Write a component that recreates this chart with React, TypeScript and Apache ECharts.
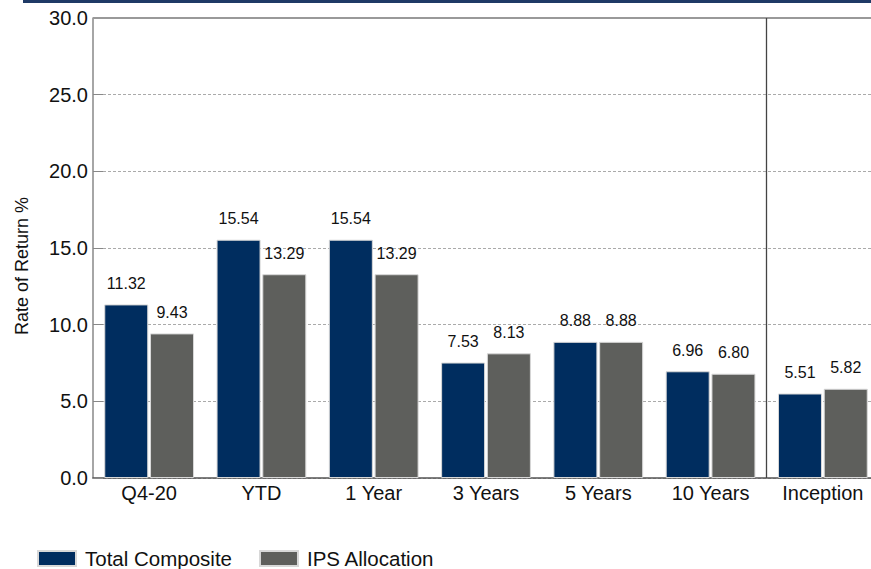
import React, { useEffect, useRef } from "react";
import * as echarts from "echarts";

const categories = ["Q4-20", "YTD", "1 Year", "3 Years", "5 Years", "10 Years", "Inception"];
const totalComposite = [11.32, 15.54, 15.54, 7.53, 8.88, 6.96, 5.51];
const ipsAllocation = [9.43, 13.29, 13.29, 8.13, 8.88, 6.8, 5.82];
const seriesNames = ["Total Composite", "IPS Allocation"];
const yTicks = { min: 0, max: 30, interval: 5 };
// boundary (in category units) where the "Inception" section begins
const separatorAt = [6];

const FONT = "'Liberation Sans', Arial, sans-serif";
const NAVY = "#002D5F";
const GREY = "#5E5F5C";

export default function App() {
  const ref = useRef<HTMLDivElement>(null);
  useEffect(() => {
    if (!ref.current) return;
    const chart = echarts.init(ref.current, undefined, { renderer: "svg" });
    const labelOpt = {
      show: true,
      position: "top" as const,
      distance: 13,
      fontSize: 16,
      fontFamily: FONT,
      color: "#111",
      formatter: (p: any) => Number(p.value).toFixed(2),
    };
    chart.setOption({
      animation: false,
      textStyle: { fontFamily: FONT },
      grid: { left: 93, top: 18, right: 0, bottom: 91, containLabel: false },
      legend: {
        left: 32,
        top: 543,
        itemWidth: 38,
        itemHeight: 15,
        itemGap: 27,
        icon: "rect",
        textStyle: { fontSize: 20.5, fontFamily: FONT, color: "#111", padding: [0, 0, 0, 4] },
        data: seriesNames,
      },
      xAxis: [
        {
          type: "category",
          data: categories,
          axisLine: { lineStyle: { color: "#555", width: 1.5 } },
          axisTick: { show: false },
          axisLabel: { interval: 0, fontSize: 20, fontFamily: FONT, color: "#111", margin: 5 },
          splitLine: { show: false },
        },
        {
          type: "value",
          min: 0,
          max: categories.length,
          show: false,
          splitLine: { show: false },
        },
      ],
      yAxis: {
        type: "value",
        min: yTicks.min,
        max: yTicks.max,
        interval: yTicks.interval,
        name: "Rate of Return %",
        nameLocation: "middle",
        nameGap: 62,
        nameTextStyle: { fontSize: 18, fontFamily: FONT, color: "#111", padding: [0, 36, 0, 0] },
        axisLine: { show: true, lineStyle: { color: "#888", width: 1.5 } },
        axisTick: { show: true, inside: true, length: 10, lineStyle: { color: "#888" } },
        axisLabel: {
          fontSize: 20,
          fontFamily: FONT,
          color: "#111",
          margin: 5,
          formatter: (v: number) => v.toFixed(1),
        },
        splitLine: {
          show: true,
          lineStyle: { color: "#aaa", type: [3, 2], width: 1 },
        },
      },
      graphic: [
        { type: "rect", left: 23, top: 0, shape: { width: 860, height: 3 }, style: { fill: "#1F3A66" } },
      ],
      series: [
        {
          name: seriesNames[0],
          type: "bar",
          data: totalComposite,
          barWidth: 44,
          barGap: "4%",
          itemStyle: { color: NAVY, borderColor: "#d8d8d8", borderWidth: 1 },
          label: labelOpt,
        },
        {
          name: seriesNames[1],
          type: "bar",
          data: ipsAllocation,
          barWidth: 44,
          barGap: "4%",
          itemStyle: { color: GREY, borderColor: "#d8d8d8", borderWidth: 1 },
          label: labelOpt,
        },
        {
          type: "line",
          data: [],
          markLine: {
            silent: true,
            symbol: "none",
            label: { show: false },
            lineStyle: { color: "#999", type: "solid", width: 2 },
            data: [{ yAxis: yTicks.max }],
          },
        },
        {
          type: "line",
          xAxisIndex: 1,
          data: [],
          markLine: {
            silent: true,
            symbol: "none",
            label: { show: false },
            lineStyle: { color: "#444", type: "solid", width: 1.3 },
            data: separatorAt.map((v) => ({ xAxis: v })),
          },
        },
      ],
    });
    return () => chart.dispose();
  }, []);
  return (
    <div
      ref={ref}
      style={{ position: "fixed", left: 0, top: 0, width: 879, height: 569, background: "#fff" }}
    />
  );
}
